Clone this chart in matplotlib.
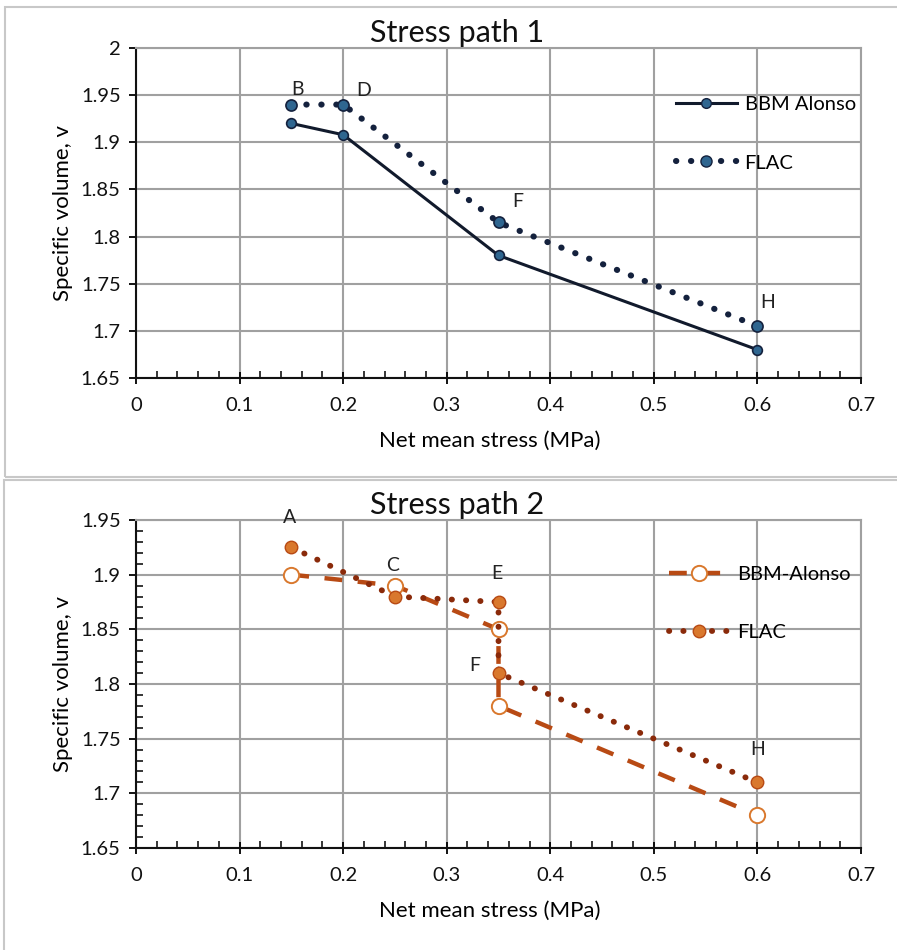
import matplotlib
matplotlib.use("Agg")
import matplotlib.pyplot as plt
from matplotlib.patches import Rectangle
from matplotlib.lines import Line2D
from matplotlib.ticker import MultipleLocator

plt.rcParams["font.family"] = ["Lato", "DejaVu Sans"]

# Stress path 1
p1_bbm_x = [0.15, 0.2, 0.35, 0.6]
p1_bbm_v = [1.92, 1.908, 1.78, 1.68]
p1_flac_x = [0.15, 0.2, 0.35, 0.6]
p1_flac_v = [1.94, 1.94, 1.815, 1.705]
p1_labels = ["B", "D", "F", "H"]

# Stress path 2
p2_bbm_x = [0.15, 0.25, 0.35, 0.35, 0.6]
p2_bbm_v = [1.90, 1.89, 1.85, 1.78, 1.68]
p2_flac_x = [0.15, 0.25, 0.35, 0.35, 0.6]
p2_flac_v = [1.925, 1.88, 1.875, 1.81, 1.71]
p2_labels = ["A", "C", "E", "F", "H"]

xticks = [0, 0.1, 0.2, 0.3, 0.4, 0.5, 0.6, 0.7]

fig = plt.figure(figsize=(8.97, 9.5), dpi=100)

# panel borders (two stacked chart areas)
fig.add_artist(Rectangle((5 / 897, 1 - 477 / 950), 900 / 897, 470 / 950,
                         transform=fig.transFigure, fill=False,
                         edgecolor="#c8c8c8", linewidth=1.5))
fig.add_artist(Rectangle((4 / 897, -0.01), 900 / 897, 1 - 480 / 950 + 0.01,
                         transform=fig.transFigure, fill=False,
                         edgecolor="#c8c8c8", linewidth=1.5))

ax1 = fig.add_axes([136 / 897, 1 - 378 / 950, 725 / 897, 330 / 950])
ax2 = fig.add_axes([136 / 897, 1 - 848 / 950, 725 / 897, 328 / 950])

navy = "#14213d"
blue_fill = "#2f6690"
dots = (0, (0.05, 2.4))

ax1.plot(p1_bbm_x, p1_bbm_v, color="#111a2c", lw=2.2, marker="o", ms=7,
         mfc=blue_fill, mec=navy, mew=1.2, zorder=3)
ax1.plot(p1_flac_x, p1_flac_v, color=navy, lw=4.4, ls=dots,
         dash_capstyle="round", marker="o", ms=8, mfc=blue_fill, mec=navy,
         mew=1.2, zorder=3)

offs1 = [(6, 15), (20, 14), (19, 21), (10, 24)]
for x, v, lab, off in zip(p1_flac_x, p1_flac_v, p1_labels, offs1):
    ax1.annotate(lab, (x, v), xytext=off, textcoords="offset pixels",
                 ha="center", va="center", fontsize=14, color="#222222")

brown = "#b84a14"
orange = "#d9782d"
dark_brown = "#8a2a0a"

ax2.plot(p2_bbm_x, p2_bbm_v, color=brown, lw=3.2, ls=(0, (4, 3.5)),
         marker="o", ms=11, mfc="white", mec=orange, mew=1.4, zorder=3)
ax2.plot(p2_flac_x, p2_flac_v, color=dark_brown, lw=4.2, ls=dots,
         dash_capstyle="round", marker="o", ms=9, mfc=orange, mec=brown,
         mew=1.0, zorder=3)

label_pts2 = [(0.15, 1.925), (0.25, 1.89), (0.35, 1.875), (0.35, 1.81), (0.6, 1.71)]
offs2 = [(-2, 30), (-2, 20), (-2, 28), (-24, 8), (0, 33)]
for (x, v), lab, off in zip(label_pts2, p2_labels, offs2):
    ax2.annotate(lab, (x, v), xytext=off, textcoords="offset pixels",
                 ha="center", va="center", fontsize=14, color="#222222")

for ax, title, ylim, ystep in [(ax1, "Stress path 1", (1.65, 2.0), 0.05),
                               (ax2, "Stress path 2", (1.65, 1.95), 0.05)]:
    ax.set_xlim(0, 0.7)
    ax.set_ylim(*ylim)
    ax.set_xticks(xticks)
    ax.set_xticklabels([f"{t:g}" for t in xticks])
    ax.yaxis.set_major_locator(MultipleLocator(ystep))
    ax.yaxis.set_major_formatter(plt.FuncFormatter(lambda v, p: f"{v:g}"))
    ax.xaxis.set_minor_locator(MultipleLocator(0.02))
    ax.grid(True, which="major", color="#a0a0a0", lw=1.5)
    ax.set_axisbelow(True)
    for s in ["top", "right"]:
        ax.spines[s].set_color("#a0a0a0")
        ax.spines[s].set_linewidth(1.5)
    for s in ["left", "bottom"]:
        ax.spines[s].set_color("#111111")
        ax.spines[s].set_linewidth(1.5)
    ax.tick_params(axis="x", which="major", direction="inout", length=9,
                   width=1.3, labelsize=14.5, pad=9, labelcolor="#111111")
    ax.tick_params(axis="x", which="minor", direction="in", length=5, width=1.1)
    ax.tick_params(axis="y", which="major", direction="out", length=5,
                   width=1.3, labelsize=14.5, pad=6, labelcolor="#111111")
    ax.set_title(title, fontsize=22, pad=4, color="#111111", x=0.443)
    ax.set_xlabel("Net mean stress (MPa)", fontsize=16, labelpad=12, x=0.488)
    ax.set_ylabel("Specific volume, v", fontsize=16, labelpad=6)

ax2.yaxis.set_minor_locator(MultipleLocator(0.01))
ax2.tick_params(axis="y", which="minor", direction="in", length=5, width=1.1)

h1 = [Line2D([], [], color="#111a2c", lw=2.2, marker="o", ms=7,
             mfc=blue_fill, mec=navy),
      Line2D([], [], color=navy, lw=4.4, ls=dots, dash_capstyle="round",
             marker="o", ms=8, mfc=blue_fill, mec=navy)]
ax1.legend(h1, ["BBM Alonso", "FLAC"], loc="center left",
           bbox_to_anchor=(0.72, 0.74), frameon=False, fontsize=14.5,
           handlelength=3.0, labelspacing=2.05, handletextpad=0.4)

h2 = [Line2D([], [], color=brown, lw=3.2, ls=(0, (4, 3.5)), marker="o",
             ms=11, mfc="white", mec=orange, mew=1.4),
      Line2D([], [], color=dark_brown, lw=4.2, ls=dots, dash_capstyle="round",
             marker="o", ms=9, mfc=orange, mec=brown)]
ax2.legend(h2, ["BBM-Alonso", "FLAC"], loc="center left",
           bbox_to_anchor=(0.71, 0.745), frameon=False, fontsize=14.5,
           handlelength=3.0, labelspacing=2.05, handletextpad=0.4)

fig.savefig("out.png", dpi=100)
